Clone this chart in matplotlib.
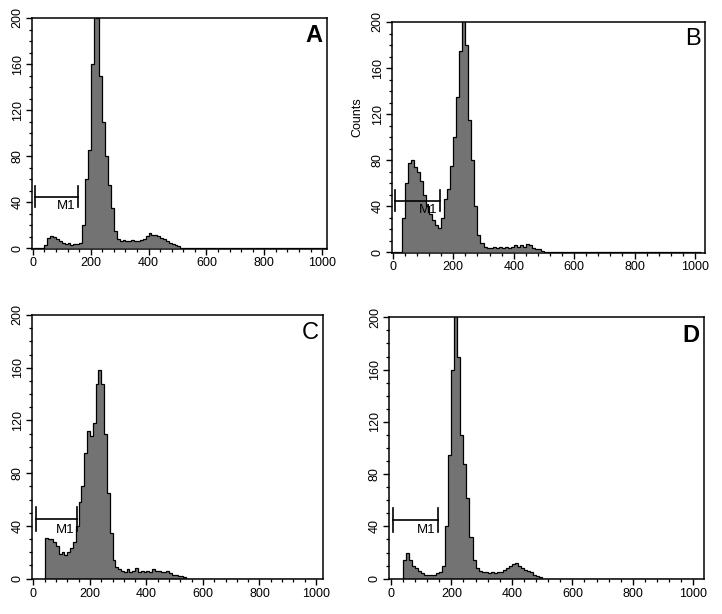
import numpy as np
import matplotlib
matplotlib.use('Agg')
import matplotlib.pyplot as plt
from matplotlib.ticker import MultipleLocator

plt.rcParams['font.family'] = ['Liberation Sans', 'DejaVu Sans']

# channel bins of width 10, counts (0..1020)
bin_width = 10
n_bins = 102

counts_A = [0, 0, 0, 0, 3, 9, 11, 10, 8, 6,
            5, 4, 5, 3, 4, 4, 5, 20, 60, 85,
            160, 215, 200, 150, 110, 80, 55, 35, 15, 8,
            6, 7, 6, 6, 7, 6, 6, 7, 8, 11,
            13, 12, 12, 11, 9, 8, 6, 5, 4, 3,
            2, 0]
counts_B = [0, 0, 0, 30, 60, 78, 80, 74, 70, 62,
            50, 40, 33, 28, 24, 21, 30, 46, 55, 75,
            100, 135, 175, 215, 180, 115, 80, 40, 15, 8,
            5, 4, 4, 5, 4, 5, 4, 5, 4, 5,
            6, 5, 6, 5, 7, 6, 4, 3, 3, 1,
            0]
counts_C = [0, 0, 0, 0, 31, 30, 30, 28, 25, 19,
            20, 18, 20, 23, 28, 40, 58, 70, 95, 112,
            108, 118, 148, 158, 148, 110, 65, 35, 14, 9,
            7, 6, 5, 7, 5, 6, 8, 5, 6, 5,
            6, 5, 7, 6, 6, 5, 5, 6, 4, 3,
            3, 2, 2, 1, 0]
counts_D = [0, 0, 0, 0, 14, 20, 14, 10, 8, 6,
            4, 3, 3, 3, 3, 4, 5, 10, 40, 95,
            160, 215, 170, 110, 88, 62, 32, 14, 8, 6,
            5, 5, 4, 5, 4, 5, 5, 7, 8, 10,
            11, 12, 10, 8, 7, 6, 5, 3, 2, 1,
            0]

panel_letters = ['A', 'B', 'C', 'D']
letter_weights = ['bold', 'normal', 'normal', 'bold']
all_counts = [counts_A, counts_B, counts_C, counts_D]

# M1 marker gate
m1_start = 8
m1_end = 155
m1_level = 45
m1_cap = 9

# axes rectangles in figure fractions, and x limits per panel
rects = [[0.0443, 0.5945, 0.4086, 0.3762],
         [0.5429, 0.5880, 0.4335, 0.3762],
         [0.0443, 0.0565, 0.4035, 0.4305],
         [0.5392, 0.0565, 0.4359, 0.4267]]
xlims = [(-3, 1017), (-3, 1033), (-5, 1026), (-5, 1035)]

edges = np.arange(n_bins + 1) * bin_width
fill_grey = '#737373'

fig = plt.figure(figsize=(7.22, 6.14), dpi=100)

for i in range(4):
    ax = fig.add_axes(rects[i])
    vals = np.zeros(n_bins)
    vals[:len(all_counts[i])] = all_counts[i]

    ax.stairs(vals, edges, fill=True, facecolor=fill_grey, edgecolor='none')
    ax.stairs(vals, edges, color='black', lw=0.9)

    # gate bar
    ax.plot([m1_start, m1_end], [m1_level, m1_level], c='black', lw=1.2)
    ax.plot([m1_start, m1_start], [m1_level - m1_cap, m1_level + m1_cap], c='black', lw=1.2)
    ax.plot([m1_end, m1_end], [m1_level - m1_cap, m1_level + m1_cap], c='black', lw=1.2)
    ax.text(m1_end - 8, m1_level - 8, 'M1', ha='right', va='center', fontsize=9.5)

    ax.set_xlim(*xlims[i])
    ax.set_ylim(-0.5, 200)
    ax.xaxis.set_major_locator(MultipleLocator(200))
    ax.xaxis.set_minor_locator(MultipleLocator(40))
    ax.yaxis.set_major_locator(MultipleLocator(40))
    ax.yaxis.set_minor_locator(MultipleLocator(10))
    ax.tick_params(which='major', direction='out', length=4, width=1, labelsize=9, pad=2)
    ax.tick_params(which='minor', direction='out', length=2.5, width=0.9)
    for lab in ax.get_yticklabels():
        lab.set_rotation(90)
        lab.set_va('center')
    for sp in ax.spines.values():
        sp.set_linewidth(1.1)

    ax.text(0.985, 0.975, panel_letters[i], transform=ax.transAxes, ha='right', va='top',
            fontsize=17, fontweight=letter_weights[i])

    if i == 1:
        ax.set_ylabel('Counts', fontsize=9, labelpad=2)
        ax.yaxis.set_label_coords(-0.09, 0.59)

plt.savefig('out.png', dpi=100)
plt.close(fig)
